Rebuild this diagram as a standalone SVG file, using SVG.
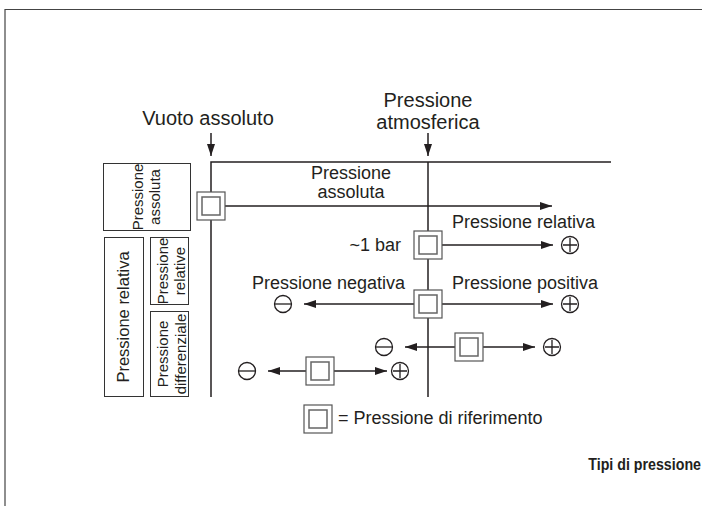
<svg xmlns="http://www.w3.org/2000/svg" width="702" height="506" viewBox="0 0 702 506">
<style>
text{font-family:"Liberation Sans",Arial,sans-serif;fill:#231f20}
.t18{font-size:18px}
.t20{font-size:20px}
.t15{font-size:15px}
.t16{font-size:16.5px}
.title{font-size:16px;font-weight:bold}
.ln{stroke:#231f20;stroke-width:1.5;fill:none}
.frame{stroke:#444;stroke-width:1.2;fill:none}
.lbox{stroke:#333;stroke-width:1;fill:#fff}
.ro{fill:#fff;stroke:#555;stroke-width:1.2}
.ri{fill:#fff;stroke:#666;stroke-width:1.5}
.sym{fill:#fff;stroke:#231f20;stroke-width:1.3}
</style>
<defs>
<marker id="ah" markerWidth="12" markerHeight="8" refX="12" refY="4" orient="auto" markerUnits="userSpaceOnUse">
<path d="M0,0 L12,4 L0,8 Z" fill="#231f20"/>
</marker>
<g id="refbox">
<rect class="ro" x="-14" y="-14" width="28" height="28"/>
<rect class="ri" x="-9" y="-9" width="18" height="18"/>
</g>
<g id="plus">
<circle class="sym" r="8.5"/>
<path d="M-7,0 H7 M0,-7 V7" stroke="#231f20" stroke-width="1.3"/>
</g>
<g id="minus">
<circle class="sym" r="8.5"/>
<path d="M-8,0 H8" stroke="#231f20" stroke-width="1.3"/>
</g>
</defs>

<g id="frame">
<path class="frame" d="M5,506 V9.5 H702"/>
</g>

<g id="axes">
<path class="ln" d="M211,397 V162 H611" stroke-width="1.8"/>
<path class="ln" d="M428,162 V397"/>
</g>

<g id="connectors">
<line class="ln" x1="211" y1="133" x2="211" y2="156" marker-end="url(#ah)"/>
<line class="ln" x1="428" y1="133" x2="428" y2="156" marker-end="url(#ah)"/>
<line class="ln" x1="225" y1="206" x2="552" y2="206" marker-end="url(#ah)"/>
<line class="ln" x1="442" y1="245" x2="553" y2="245" marker-end="url(#ah)"/>
<line class="ln" x1="414" y1="304" x2="304" y2="304" marker-end="url(#ah)"/>
<line class="ln" x1="442" y1="304" x2="553" y2="304" marker-end="url(#ah)"/>
<line class="ln" x1="455" y1="347" x2="405" y2="347" marker-end="url(#ah)"/>
<line class="ln" x1="483" y1="347" x2="535" y2="347" marker-end="url(#ah)"/>
<line class="ln" x1="306" y1="371" x2="268" y2="371" marker-end="url(#ah)"/>
<line class="ln" x1="334" y1="371" x2="387" y2="371" marker-end="url(#ah)"/>
</g>

<g id="label-vuoto">
<text class="t20" x="208" y="125" text-anchor="middle">Vuoto assoluto</text>
</g>
<g id="label-atm">
<text class="t20" x="428" y="107" text-anchor="middle">Pressione</text>
<text class="t20" x="428" y="129" text-anchor="middle">atmosferica</text>
</g>

<g id="box-assoluta">
<rect class="lbox" x="103.5" y="163.5" width="87" height="67"/>
<text class="t15" transform="translate(143,197) rotate(-90)" text-anchor="middle">Pressione</text>
<text class="t15" transform="translate(160,197) rotate(-90)" text-anchor="middle">assoluta</text>
</g>
<g id="box-relativa">
<rect class="lbox" x="104.5" y="237.5" width="39" height="159"/>
<text class="t16" transform="translate(129,317) rotate(-90)" text-anchor="middle">Pressione relativa</text>
</g>
<g id="box-relative">
<rect class="lbox" x="150.5" y="237.5" width="38" height="67"/>
<text class="t15" transform="translate(168,271) rotate(-90)" text-anchor="middle">Pressione</text>
<text class="t15" transform="translate(185,271) rotate(-90)" text-anchor="middle">relative</text>
</g>
<g id="box-differenziale">
<rect class="lbox" x="150.5" y="311.5" width="38" height="85"/>
<text class="t15" transform="translate(168,354) rotate(-90)" text-anchor="middle">Pressione</text>
<text class="t15" transform="translate(185.5,354) rotate(-90)" text-anchor="middle">differenziale</text>
</g>

<g id="ref-assoluta">
<use href="#refbox" x="211" y="206"/>
<text class="t18" x="351" y="179" text-anchor="middle">Pressione</text>
<text class="t18" x="351" y="198" text-anchor="middle">assoluta</text>
</g>

<g id="ref-relativa">
<use href="#refbox" x="428" y="245"/>
<text class="t18" x="401" y="251" text-anchor="end">~1 bar</text>
<text class="t18" x="452" y="228">Pressione relativa</text>
<use href="#plus" x="570" y="245"/>
</g>

<g id="ref-atm">
<use href="#refbox" x="428" y="304"/>
<text class="t18" x="405" y="289" text-anchor="end">Pressione negativa</text>
<text class="t18" x="452" y="289">Pressione positiva</text>
<use href="#minus" x="283" y="304"/>
<use href="#plus" x="570" y="304"/>
</g>

<g id="ref-diff1">
<use href="#refbox" x="469" y="347"/>
<use href="#minus" x="384" y="347"/>
<use href="#plus" x="552" y="347"/>
</g>

<g id="ref-diff2">
<use href="#refbox" x="320" y="371"/>
<use href="#minus" x="247" y="371"/>
<use href="#plus" x="400" y="371"/>
</g>

<g id="legend">
<use href="#refbox" x="318" y="419"/>
<text class="t18" x="338" y="424">= Pressione di riferimento</text>
</g>

<g id="title">
<text class="title" transform="translate(701,470) scale(0.89,1)" text-anchor="end">Tipi di pressione</text>
</g>
</svg>
